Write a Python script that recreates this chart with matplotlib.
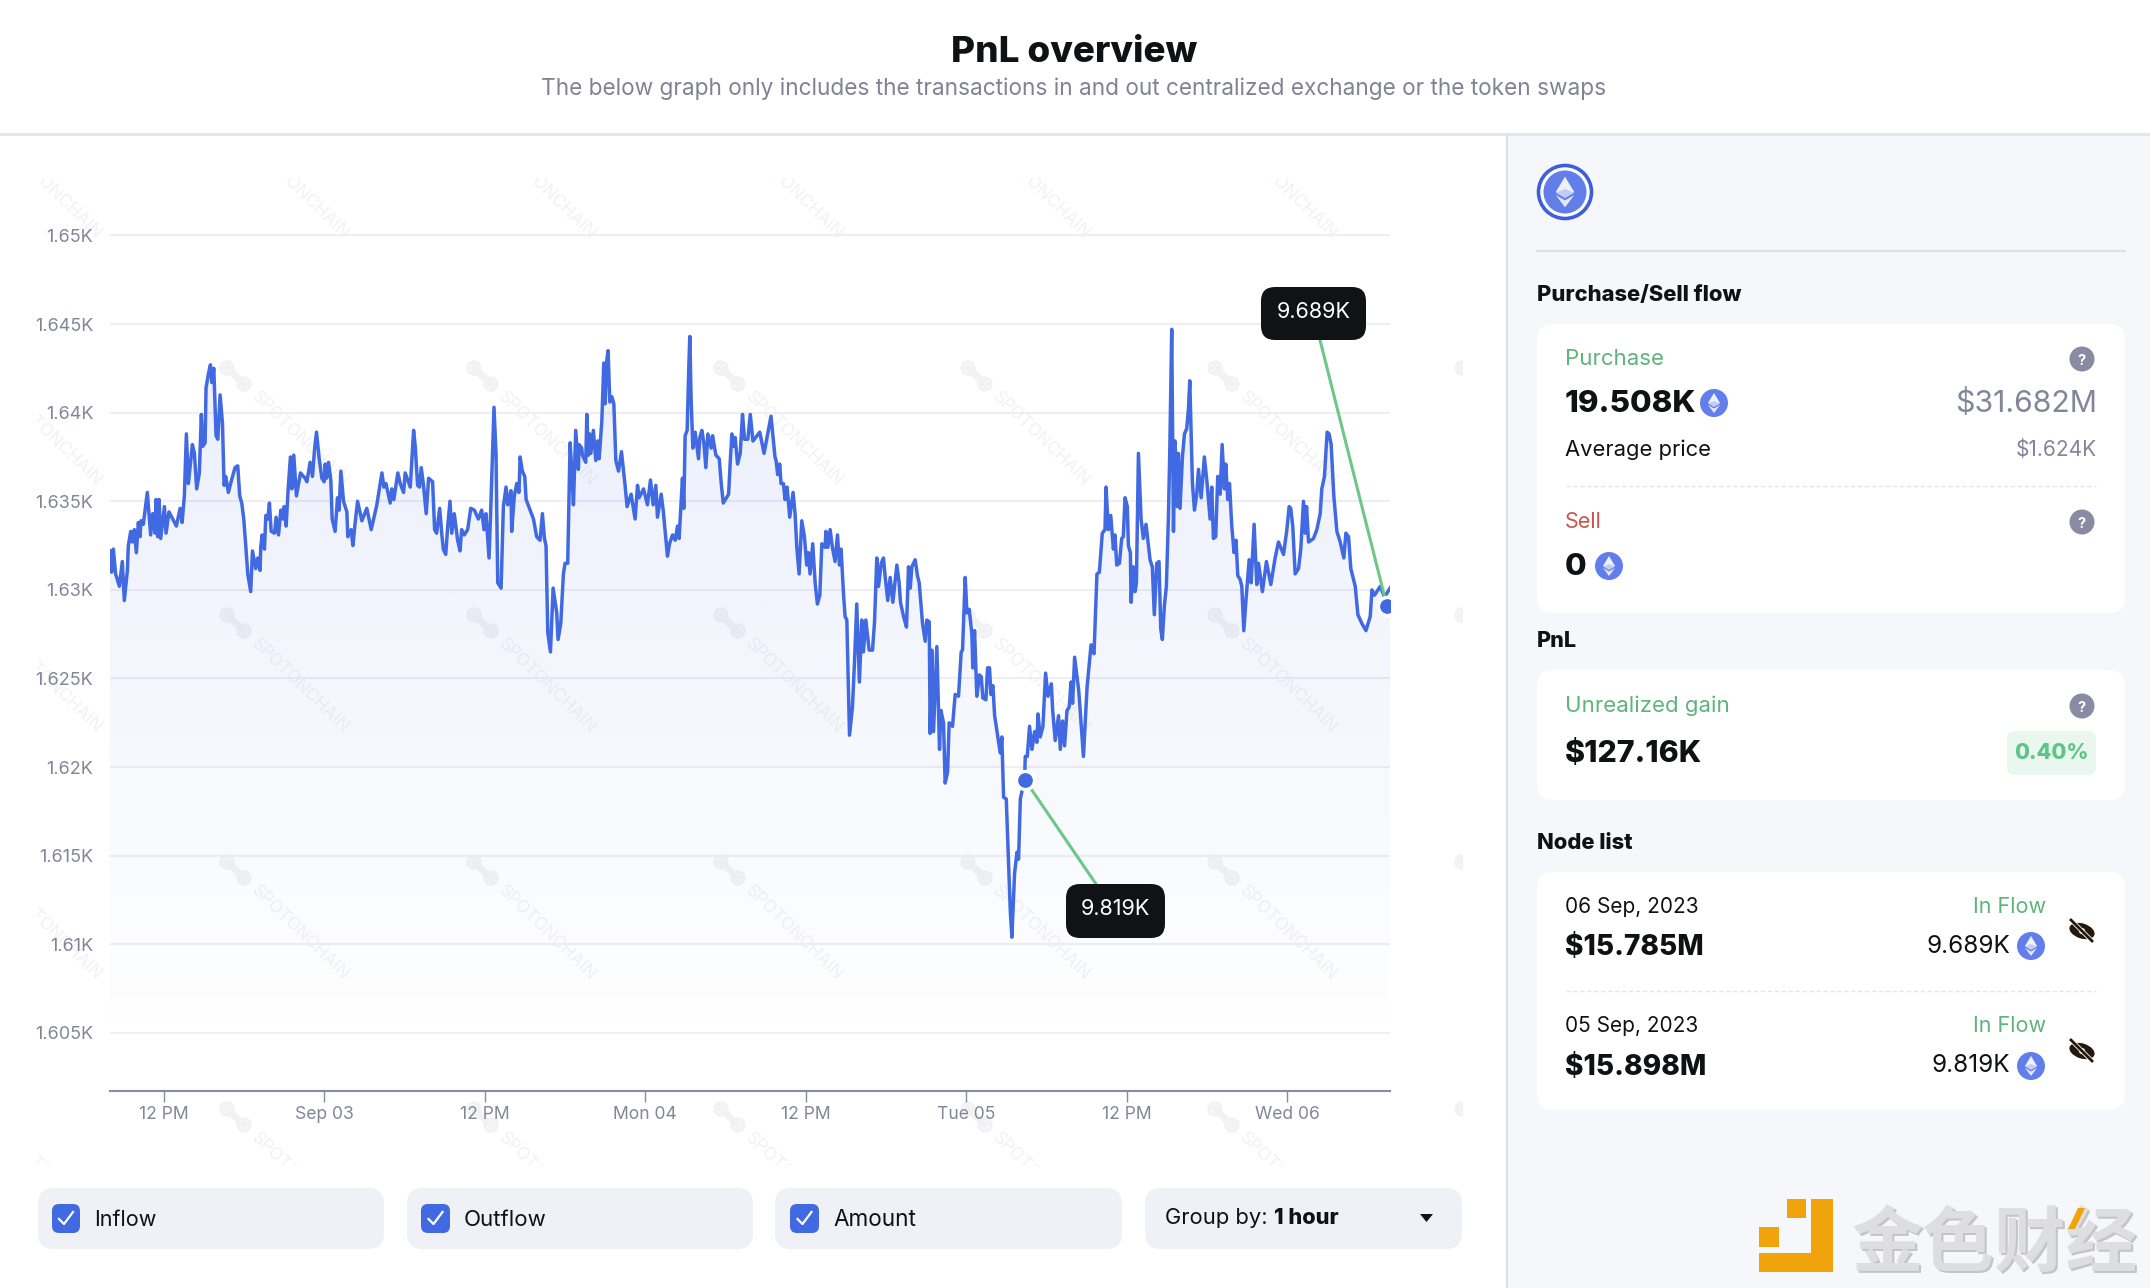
import numpy as np
import matplotlib
matplotlib.use("Agg")
import matplotlib.pyplot as plt
from matplotlib.patches import Circle, Ellipse, FancyBboxPatch, Polygon, Rectangle

# hours since 2 Sep 00:00, price in USD
hours_a = [8.0,8.12,8.25,8.42,8.70,8.92,9.07,9.30,9.37,9.55,9.67,9.82,9.97,10.12,10.24,10.32,10.49,10.79,11.04,11.19,11.37,11.44,11.57,11.67,11.79,12.07,12.19,12.41,12.69,12.96,13.24,13.39,13.56,13.71,13.86,14.16,14.31,14.48,14.68,14.83,14.93,15.11,15.18,15.36,15.51,15.61,15.76,15.93,16.06,16.23,16.41,16.53,16.65,16.85,17.05,17.35,17.55,17.70,17.85,18.00,18.15,18.30,18.52,18.65,18.90,19.05,19.22,19.27,19.37,19.55,19.65,19.80,19.92,20.05,20.30,20.42,20.60,20.77,20.92,21.02,21.17,21.32,21.49,21.59,21.74,21.94,22.24,22.59,22.72,22.96,23.14,23.29,23.44,23.64,23.84,24.01,24.09,24.19,24.34,24.51,24.61,24.83,25.01,25.13,25.26,25.46,25.71,25.78,26.03,26.16,26.33,26.51,26.83,27.20,27.53,27.95,28.33,28.48,28.63,28.95,29.07,29.22,29.52,29.70,29.95,30.07,30.45,30.70,30.82,31.00,31.14,31.27,31.44,31.64,31.82,32.12,32.27]
price_a = [1632.2,1631.0,1632.3,1630.9,1630.2,1631.6,1629.4,1631.1,1632.5,1633.3,1632.7,1633.4,1632.1,1633.8,1633.0,1633.9,1633.7,1635.5,1633.1,1634.3,1633.2,1635.1,1633.0,1635.1,1632.9,1634.7,1633.2,1634.4,1634.0,1633.6,1634.6,1633.8,1635.3,1638.8,1636.0,1638.2,1637.7,1635.7,1636.6,1639.9,1638.1,1638.3,1641.4,1642.2,1642.7,1641.7,1642.5,1638.7,1638.5,1641.0,1639.4,1635.9,1636.4,1635.5,1636.1,1636.9,1637.0,1635.3,1634.9,1634.0,1632.5,1630.9,1629.9,1632.2,1631.2,1631.8,1631.1,1632.4,1633.1,1632.3,1634.2,1634.0,1634.9,1633.3,1633.2,1634.1,1633.1,1634.5,1634.0,1634.7,1633.6,1635.7,1637.5,1635.7,1637.6,1635.3,1636.6,1636.3,1636.1,1637.2,1636.4,1637.9,1638.9,1637.4,1636.3,1636.1,1637.1,1636.3,1637.2,1636.2,1634.0,1633.3,1635.2,1634.5,1636.7,1635.0,1634.4,1633.0,1633.4,1632.5,1633.8,1635.0,1633.9,1634.6,1633.4,1634.8,1636.6,1635.8,1636.0,1634.9,1635.7,1635.1,1636.6,1636.0,1635.5,1636.6,1635.8,1639.0,1638.1,1635.9,1635.8,1636.9,1635.9,1634.3,1636.3,1636.1,1633.4]

hours_b = [32.42,32.65,32.80,32.92,33.10,33.25,33.42,33.55,33.74,33.99,34.17,34.29,34.49,34.74,34.97,35.24,35.54,35.79,35.96,36.11,36.34,36.49,36.71,36.86,36.99,37.24,37.41,37.61,37.74,37.98,38.03,38.23,38.41,38.58,38.66,38.83,39.01,39.11,39.36,39.66,39.90,40.15,40.33,40.48,40.60,40.73,40.93,41.13,41.40,41.50,41.70,41.90,42.02,42.22,42.40,42.52,42.65,42.82,43.02,43.07,43.27,43.32,43.57,43.65,43.77,43.85,43.95,44.14,44.32,44.47,44.57,44.77,44.92,45.02,45.12,45.24,45.37,45.52,45.67,45.82,46.02,46.24,46.51,46.66,46.96,47.26,47.44,47.56,47.89,48.18,48.41,48.61,48.81,48.93,49.21,49.36,49.68,49.83,50.06,50.26,50.43,50.55,50.80,50.90,51.00,51.15,51.28,51.35,51.45,51.58,51.75,52.00,52.10,52.25,52.40,52.55,52.70,52.95,53.05,53.30,53.55,53.70,53.85,54.25,54.40,54.50,54.62,54.74,54.92,55.12,55.29,55.44,55.69,55.87,56.07,56.58,56.90,57.42,57.72]
price_b = [1633.2,1634.6,1633.2,1632.3,1632.0,1633.6,1635.0,1633.2,1634.3,1632.8,1632.2,1633.4,1633.1,1633.4,1634.6,1634.5,1634.0,1634.5,1633.4,1634.3,1631.8,1635.1,1640.3,1637.7,1630.4,1630.1,1634.7,1635.8,1634.8,1635.6,1633.3,1635.3,1636.0,1635.5,1637.5,1636.7,1636.4,1635.1,1634.6,1634.0,1633.0,1632.8,1634.3,1632.9,1632.5,1627.6,1626.5,1630.1,1628.7,1627.2,1628.1,1630.9,1631.5,1631.5,1638.3,1636.8,1634.8,1639.0,1636.8,1638.2,1638.0,1637.6,1637.2,1639.9,1637.6,1638.8,1637.7,1639.0,1637.3,1638.4,1637.4,1639.5,1642.8,1640.5,1642.8,1643.5,1640.6,1640.9,1640.5,1637.3,1636.7,1637.8,1635.9,1634.7,1635.4,1634.0,1635.9,1635.2,1635.7,1634.8,1636.2,1634.8,1635.9,1634.1,1635.4,1634.5,1631.9,1632.6,1633.1,1632.8,1633.6,1632.9,1636.3,1634.6,1638.7,1639.0,1642.7,1644.3,1640.7,1638.0,1638.9,1637.4,1638.6,1639.0,1638.3,1636.9,1638.8,1638.0,1638.7,1637.6,1637.4,1636.0,1634.9,1635.4,1637.6,1638.8,1638.1,1638.6,1637.1,1637.7,1639.9,1638.5,1638.5,1639.9,1638.4,1638.9,1637.7,1639.8,1637.5]

hours_c = [57.80,57.92,58.07,58.17,58.35,58.47,58.62,58.82,59.07,59.22,59.35,59.52,59.72,59.92,60.09,60.22,60.34,60.54,60.72,60.89,61.07,61.22,61.47,61.52,61.67,61.84,62.01,62.21,62.39,62.54,62.66,62.84,62.96,63.09,63.29,63.51,63.66,63.83,64.03,64.21,64.33,64.51,64.76,65.01,65.16,65.33,65.46,65.66,65.83,65.95,66.15,66.33,66.53,66.83,67.00,67.10,67.33,67.55,67.70,67.83,67.95,68.20,68.37,68.50,68.60,68.75,68.95,69.07,69.25,69.32,69.45,69.57,69.82,70.02,70.12,70.32,70.44,70.62,70.74,70.99,71.19,71.44,71.64,71.74,71.94,72.07,72.24,72.44,72.51,72.64,72.81,73.01,73.14,73.26,73.49,73.61,73.76,73.86,74.01,74.14,74.36,74.56,74.68,74.81,75.01,75.13,75.31,75.43,75.63,75.81,75.93,76.06,76.38,76.43,76.58,76.75,76.93,77.13,77.30,77.38,77.55,77.75,77.95,78.13,78.38,78.48,78.67,78.92,79.05,79.22,79.37,79.55,79.72,79.85,79.97,80.12,80.43,80.78,81.05,81.35,81.57]
price_c = [1637.3,1636.5,1637.1,1636.0,1636.0,1635.1,1635.8,1634.1,1635.5,1634.3,1632.4,1630.9,1633.9,1633.0,1631.4,1632.1,1630.9,1632.6,1630.4,1629.2,1629.7,1632.6,1632.4,1633.3,1632.4,1633.4,1632.4,1631.6,1633.1,1631.4,1632.3,1629.8,1628.5,1628.3,1621.8,1623.4,1625.9,1629.2,1624.8,1628.3,1626.5,1628.3,1626.6,1626.6,1628.2,1631.8,1630.2,1631.5,1631.8,1630.8,1629.4,1630.7,1629.3,1631.4,1630.4,1629.3,1628.5,1627.9,1631.3,1630.1,1631.3,1631.7,1630.8,1630.4,1629.5,1628.1,1627.1,1628.3,1628.2,1621.9,1626.6,1622.0,1626.8,1621.0,1623.2,1622.5,1619.1,1619.7,1622.5,1622.3,1624.1,1624.0,1626.5,1626.6,1630.7,1628.7,1628.9,1627.5,1625.6,1627.7,1624.0,1625.2,1625.1,1623.9,1623.8,1625.6,1625.6,1624.1,1624.6,1622.9,1621.8,1620.8,1621.7,1618.3,1618.2,1615.7,1611.9,1610.4,1614.0,1615.2,1614.8,1618.2,1619.3,1620.6,1620.6,1622.3,1621.0,1622.0,1621.4,1623.0,1621.7,1622.3,1625.3,1624.0,1624.7,1623.2,1621.5,1622.9,1621.0,1622.6,1621.2,1623.2,1623.4,1624.8,1623.6,1626.2,1624.3,1620.6,1624.5,1626.9,1626.4]

hours_d = [81.79,81.97,82.04,82.19,82.39,82.47,82.64,82.82,83.02,83.14,83.27,83.47,83.64,83.76,83.89,84.06,84.14,84.29,84.34,84.51,84.64,84.74,84.89,85.09,85.26,85.46,85.76,85.93,86.08,86.26,86.43,86.56,86.68,86.83,86.98,87.13,87.23,87.38,87.51,87.63,87.80,87.88,88.00,88.18,88.33,88.50,88.63,88.73,88.83,88.93,89.08,89.25,89.38,89.58,89.82,90.00,90.25,90.37,90.50,90.67,90.82,91.00,91.15,91.32,91.42,91.57,91.70,91.87,92.04,92.19,92.32,92.49,92.62,92.77,92.94,93.17,93.32,93.54,93.74,93.87,94.16,94.46,94.79,95.11,95.36,95.74,95.99,96.16,96.28,96.43,96.61,96.86,97.03,97.23,97.36,97.46,97.61,97.98,98.23,98.48,98.60,98.80,99.00,99.15,99.30,99.50,99.73,99.98,100.25,100.40,100.60,100.77,101.10,101.30,101.60,101.90,102.22,102.35,102.54,102.97,103.29,103.79]
price_d = [1630.9,1631.0,1631.7,1633.2,1633.4,1635.8,1633.4,1634.2,1632.3,1633.1,1631.4,1631.5,1632.9,1633.0,1635.2,1634.7,1632.5,1632.1,1629.3,1631.3,1629.9,1630.4,1637.7,1634.0,1632.9,1633.7,1631.7,1631.3,1628.6,1631.5,1631.6,1627.8,1627.2,1629.1,1630.2,1634.0,1637.6,1644.7,1633.3,1638.4,1634.7,1637.7,1634.6,1637.5,1638.8,1639.1,1640.2,1641.8,1638.9,1636.0,1634.5,1635.4,1636.8,1635.2,1637.5,1636.2,1634.0,1635.8,1632.9,1633.0,1636.4,1635.4,1638.2,1635.7,1637.1,1635.1,1636.0,1633.6,1632.1,1632.8,1630.8,1630.6,1630.2,1627.7,1629.5,1631.7,1630.4,1633.7,1630.3,1631.5,1629.9,1631.6,1630.3,1631.8,1632.7,1632.0,1633.4,1634.7,1634.6,1633.6,1630.9,1631.2,1632.3,1635.0,1633.2,1634.7,1632.7,1632.9,1633.4,1634.3,1635.7,1636.4,1638.9,1638.8,1638.2,1635.3,1633.3,1632.7,1631.8,1633.2,1633.0,1631.2,1630.2,1628.6,1628.1,1627.7,1628.5,1630.0,1629.7,1630.2,1629.6,1630.2]

ytick_values = [1605, 1610, 1615, 1620, 1625, 1630, 1635, 1640, 1645, 1650]
ytick_labels = ["1.605K", "1.61K", "1.615K", "1.62K", "1.625K", "1.63K", "1.635K", "1.64K", "1.645K", "1.65K"]
xtick_values = [12, 24, 36, 48, 60, 72, 84, 96]
xtick_labels = ["12 PM", "Sep 03", "12 PM", "Mon 04", "12 PM", "Tue 05", "12 PM", "Wed 06"]
node_hours = [76.43, 103.47]
node_price = [1619.25, 1629.1]

FONT = "Inter"
BLUE = "#4169E1"
ETH = "#627EEA"
GREEN = "#5FB37C"
LINEGREEN = "#6CC788"
GREY = "#85859A"
INK = "#101114"
PANEL = "#F6F7FB"
MARK = "#F2F2F5"

plt.rcParams["font.family"] = [FONT, "DejaVu Sans"]

W, H = 2150, 1288
fig = plt.figure(figsize=(W / 100, H / 100), dpi=100, facecolor="white")

# whole page in pixel coordinates, sits under the chart
bg = fig.add_axes([0, 0, 1, 1], zorder=0)
bg.set_xlim(0, W)
bg.set_ylim(H, 0)
bg.axis("off")


def label(x, y, s, size=15, color=INK, weight="normal", ha="left"):
    return bg.text(x, y - 1.5, s, fontsize=size, color=color, fontweight=weight, ha=ha,
                   va="center_baseline")


def card(x0, y0, x1, y1, color="white", r=16, z=1):
    bg.add_patch(FancyBboxPatch((x0 + r, y0 + r), x1 - x0 - 2 * r, y1 - y0 - 2 * r,
                                boxstyle="round,pad=%d,rounding_size=%d" % (r, r),
                                fc=color, ec="none", zorder=z))


def eth_icon(x, y, r=14):
    bg.add_patch(Circle((x, y), r, fc=ETH, ec="none", zorder=3))
    s = r / 14
    bg.add_patch(Polygon([(x, y - 10 * s), (x + 6 * s, y), (x, y + 3 * s), (x - 6 * s, y)],
                         fc="#EEF1FD", ec="none", zorder=4))
    bg.add_patch(Polygon([(x, y - 2 * s), (x + 6 * s, y + .5 * s), (x, y + 4 * s), (x - 6 * s, y + .5 * s)],
                         fc="#C2CCF6", ec="none", zorder=5))
    bg.add_patch(Polygon([(x - 6 * s, y + 2 * s), (x, y + 5.5 * s), (x + 6 * s, y + 2 * s), (x, y + 10 * s)],
                         fc="#E4E8FB", ec="none", zorder=4))


def help_icon(x, y):
    bg.add_patch(Circle((x, y), 12.5, fc="#8A8AA3", ec="none", zorder=3))
    bg.text(x, y, "?", color="white", fontsize=10.5, fontweight="bold", ha="center",
            va="center_baseline", zorder=4)


def eye_off(x, y):
    bg.add_patch(Ellipse((x, y), 26, 15, angle=18, fc="#24180C", ec="none", zorder=3))
    bg.add_patch(Circle((x, y), 3, fc="white", ec="none", zorder=4))
    bg.plot([x - 10, x + 11], [y - 10, y + 11], color="white", lw=3.2, zorder=4)
    bg.plot([x - 11, x + 10], [y - 11, y + 10], color="#24180C", lw=2, zorder=5)


def checkbox(x0, x1):
    card(x0, 1204, x1, 1233, BLUE, r=7, z=2)
    cx = (x0 + x1) / 2
    bg.plot([cx - 7, cx - 2, cx + 7], [1219, 1224, 1212], color="white", lw=1.6, zorder=3)


# page furniture
bg.add_patch(Rectangle((1507, 134), W - 1507, H - 134, fc=PANEL, ec="none", zorder=0))
bg.plot([0, W], [134, 134], color="#E4E5EA", lw=2, zorder=1)
bg.plot([1507, 1507], [134, H], color="#E0E1E6", lw=1.6, zorder=1)

label(1074, 50, "PnL overview", size=26.5, weight="heavy", ha="center")
label(1074, 88, "The below graph only includes the transactions in and out centralized exchange or the token swaps",
      size=16.3, color="#828292", ha="center")

# watermark tiles behind the chart
clip = Rectangle((37, 178), 1426, 987, transform=bg.transData)
for wy in [129, 376, 623, 870, 1117]:
    for wx in [-11, 236, 483, 730, 977, 1224, 1471]:
        for dx, dy in [(-9, -8), (8, 8)]:
            c = Circle((wx + dx, wy + dy), 6, fc="none", ec=MARK, lw=2.4, zorder=0.5)
            bg.add_patch(c)
            c.set_clip_path(clip)
        link, = bg.plot([wx - 9, wx + 8], [wy - 8, wy + 8], color=MARK, lw=5, zorder=0.4)
        link.set_clip_path(clip)
        t = bg.text(wx + 18, wy + 19, "SPOTONCHAIN", fontsize=12.5, color=MARK, rotation=-44,
                    rotation_mode="anchor", ha="left", va="center", zorder=0.5, clip_on=True)
        t.set_clip_path(clip)

# bottom controls
for x0, x1 in [(38, 384), (407, 753), (775, 1122), (1145, 1462)]:
    card(x0, 1188, x1, 1249, "#F0F1F6", r=16)
checkbox(52, 80)
label(94, 1219, "Inflow", size=15.5)
checkbox(421, 450)
label(464, 1219, "Outflow", size=16)
checkbox(790, 819)
label(833, 1219, "Amount", size=16.2)
label(1165, 1218, "Group by:", size=15.8)
label(1274, 1218, "1 hour", size=15.6, weight="heavy")
bg.add_patch(Polygon([(1420, 1214), (1433, 1214), (1426.5, 1222)], fc=INK, ec="none"))

# right hand panel
bg.add_patch(Circle((1565, 192), 26.5, fc="white", ec="#3F5FD8", lw=2.6, zorder=2))
eth_icon(1565, 192, r=21.5)
bg.plot([1537, 2125], [251, 251], color="#DFE0E6", lw=1.6)

label(1537, 294, "Purchase/Sell flow", size=15.8, weight="heavy")
card(1537, 324, 2125, 613)
label(1565, 358, "Purchase", size=16, color=GREEN)
help_icon(2082, 359)
label(1565, 402, "19.508K", size=22.5, weight="heavy")
eth_icon(1714, 403)
label(2097, 402, "$31.682M", size=21.8, color=GREY, ha="right")
label(1565, 449, "Average price", size=15.8)
label(2097, 449, "$1.624K", size=15, color=GREY, ha="right")
bg.plot([1566, 2096], [486, 486], color="#E5E5EA", lw=1, ls=(0, (3, 2)), zorder=2)
label(1565, 521, "Sell", size=15.5, color="#C8564F")
help_icon(2082, 522)
label(1565, 565, "0", size=22.5, weight="heavy")
eth_icon(1609, 566)

label(1537, 640, "PnL", size=15.5, weight="heavy")
card(1537, 670, 2125, 800)
label(1565, 705, "Unrealized gain", size=16, color=GREEN)
help_icon(2082, 706)
label(1565, 752, "$127.16K", size=21.8, weight="heavy")
card(2007, 731, 2096, 775, "#E9F7EE", r=8, z=2)
bg.text(2051, 751, "0.40%", fontsize=15.5, fontweight="heavy", color="#5CC587", ha="center", va="center_baseline", zorder=3)

label(1537, 842, "Node list", size=15.8, weight="heavy")
card(1537, 872, 2125, 1110)
for top, date, usd, eth_text in [(906, "06 Sep, 2023", "$15.785M", "9.689K"), (1026, "05 Sep, 2023", "$15.898M", "9.819K")]:
    label(1565, top, date, size=15)
    label(1565, top + 40, usd, size=20.2, weight="heavy")
    label(2046, top, "In Flow", size=15.5, color=GREEN, ha="right")
    label(2010, top + 39, eth_text, size=17.5, ha="right")
    eth_icon(2031, top + 40)
    eye_off(2082, top + 25)
bg.plot([1566, 2096], [991, 991], color="#E5E5EA", lw=1, ls=(0, (3, 2)), zorder=2)

# corner logo
ORANGE = "#F0A30A"
for x0, y0, x1, y1 in [(1811, 1199, 1833, 1272), (1759, 1253, 1833, 1272), (1759, 1227, 1779, 1247), (1787, 1199, 1806, 1218)]:
    bg.add_patch(Rectangle((x0, y0), x1 - x0, y1 - y0, fc=ORANGE, ec="none", zorder=3))
for off, col in [(2, "#C4C4C8"), (0, "#DEDEE0")]:
    bg.text(1995 + off, 1237 + off, "金色财经", fontsize=51.5, color=col, fontweight="bold", ha="center",
            va="center_baseline", family=["Noto Sans CJK SC", "DejaVu Sans"], zorder=3)
bg.add_patch(Polygon([(2078, 1208), (2085, 1208), (2075, 1229), (2068, 1229)], fc=ORANGE, ec="none", zorder=4))

# the chart itself
px_left, px_right, px_top, px_bottom = 110, 1390, 200, 1090.7
ax = fig.add_axes([px_left / W, 1 - px_bottom / H, (px_right - px_left) / W, (px_bottom - px_top) / H], zorder=1)
ax.patch.set_visible(False)

hours = np.array(hours_a + hours_b + hours_c + hours_d)
price = np.array(price_a + price_b + price_c + price_d)

xmin, xmax = 8, 103.7
ymin, ymax = 1601.74, 1652
ax.grid(axis="y", color="#EEEFF2", lw=1.5)
ax.set_axisbelow(True)

# area fades out towards the bottom
shade = np.zeros((256, 1, 4))
shade[:, :, :3] = matplotlib.colors.to_rgb(BLUE)
shade[:, 0, 3] = np.linspace(0.11, 0, 256)
im = ax.imshow(shade, extent=[xmin, xmax, 1604, 1645], aspect="auto", zorder=1, origin="upper")
area = ax.fill_between(hours, price, 1604, color="none", zorder=1)
im.set_clip_path(area.get_paths()[0], transform=ax.transData)

ax.plot(hours, price, color=BLUE, lw=2.5, solid_joinstyle="round", zorder=2)
ax.plot(node_hours, node_price, "o", color=BLUE, ms=13, mec="white", mew=2.4, zorder=6)

ax.set_xlim(xmin, xmax)
ax.set_ylim(ymin, ymax)
ax.set_yticks(ytick_values, ytick_labels)
ax.set_xticks(xtick_values, xtick_labels)
ax.tick_params(axis="y", length=0, pad=12, labelsize=13, labelcolor=GREY)
ax.tick_params(axis="x", length=8, width=1, color="#8A8A9E", pad=3, labelsize=12.6, labelcolor=GREY)
for side in ["top", "left", "right"]:
    ax.spines[side].set_visible(False)
ax.spines["bottom"].set_color("#8A8A9E")
ax.spines["bottom"].set_linewidth(1.5)

# node callouts
for (nx, ny), (bx, by) in zip(zip(node_hours, node_price), [(1096, 884), (1320, 340)]):
    ax.annotate("", xy=(nx, ny), xycoords="data", xytext=(bx, by), textcoords=bg.transData,
                arrowprops=dict(arrowstyle="-", color=LINEGREEN, lw=2.2, shrinkA=0, shrinkB=0),
                annotation_clip=False, zorder=3)
for x0, y0, x1, y1, s in [(1066, 884, 1165, 938, "9.819K"), (1261, 287, 1366, 340, "9.689K")]:
    r = 14
    ax.add_patch(FancyBboxPatch((x0 + r, y0 + r), x1 - x0 - 2 * r, y1 - y0 - 2 * r,
                                boxstyle="round,pad=%d,rounding_size=%d" % (r, r), fc="#111215", ec="none",
                                transform=bg.transData, clip_on=False, zorder=7))
    ax.text((x0 + x1) / 2, (y0 + y1) / 2 - 4, s, color="white", fontsize=15.5, ha="center", va="center_baseline",
            transform=bg.transData, zorder=8)

fig.savefig("out.png", dpi=100, facecolor="white")
